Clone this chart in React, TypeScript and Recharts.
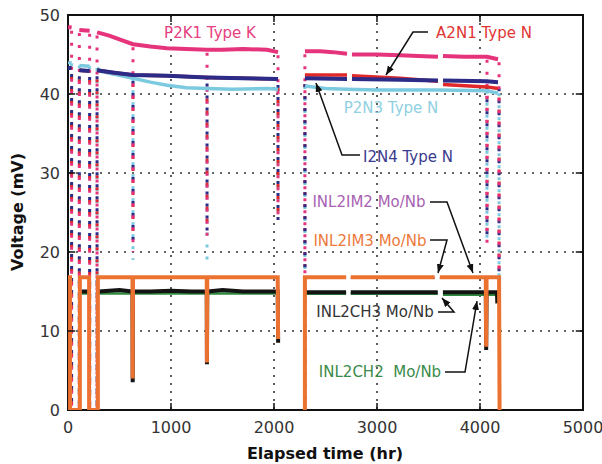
import React from 'react';
import {
  LineChart, Line, XAxis, YAxis, CartesianGrid, ReferenceArea, ReferenceLine,
} from 'recharts';

// ---------- axis ticks ----------
const X_TICKS = [0, 1000, 2000, 3000, 4000, 5000];
const Y_TICKS = [0, 10, 20, 30, 40, 50];

// ---------- upper group (solid levels, null = gap) ----------
type P = [number, number] | null;

const P2K1_LEVEL: P[] = [
  [0, 48.5], [35, 48.4], null,
  [110, 48.1], [210, 48.0], null,
  [282, 47.8], [311, 47.7], [400, 47.4], [500, 46.9], [631, 46.3], [800, 46.0], [961, 45.8],
  [1150, 45.7], [1350, 45.6], [1500, 45.6], [1700, 45.7], [1932, 45.6], [2039, 45.3], null,
  [2300, 45.4], [2450, 45.4], [2573, 45.3], [2709, 45.1], null,
  [2757, 45.0], [3000, 45.0], [3223, 44.9], [3400, 44.8], [3592, 44.7], null,
  [3641, 44.8], [3850, 44.7], [4068, 44.7], [4175, 44.4],
];

const P2N3_LEVEL: P[] = [
  [0, 44.0], [35, 43.9], null,
  [110, 43.6], [210, 43.5], null,
  [282, 43.3], [311, 42.9], [450, 42.5], [631, 42.0], [800, 41.5], [961, 41.1], [1150, 40.8],
  [1350, 40.7], [1600, 40.6], [1932, 40.7], [2039, 40.6], null,
  [2300, 41.0], [2500, 40.7], [2709, 40.6], [3000, 40.5], [3592, 40.5], [4068, 40.4], [4175, 40.1],
];

const A2N1_LEVEL: P[] = [
  [0, 43.3], [35, 43.3], null,
  [110, 43.0], [210, 42.9], null,
  [282, 43.0], [450, 42.7], [631, 42.4], [961, 42.3], [1350, 42.1], [1700, 42.0], [2039, 41.9], null,
  [2300, 42.4], [2709, 42.4], null,
  [2757, 42.3], [3223, 42.0], [3592, 41.6], null,
  [3641, 41.2], [4068, 40.9], [4175, 40.7],
];

const I2N4_LEVEL: P[] = [
  [0, 43.3], [35, 43.3], null,
  [110, 43.0], [210, 42.9], null,
  [282, 43.0], [450, 42.7], [631, 42.4], [961, 42.3], [1350, 42.1], [1700, 42.0], [2039, 41.9], null,
  [2300, 42.0], [2709, 41.9], null,
  [2757, 41.9], [3223, 41.8], [3592, 41.7], null,
  [3641, 41.7], [4068, 41.6], [4175, 41.5],
];

// dropout columns: [time, level, lowest reading]
const P2K1_DROPS: [number, number, number][] = [
  [35, 48.4, 0], [110, 48.1, 0], [210, 48.0, 0], [282, 47.8, 0], [631, 46.3, 20],
  [1350, 45.6, 21], [2039, 45.3, 24], [2300, 45.4, 0], [4068, 44.7, 21], [4185, 44.4, 17],
];
const P2N3_DROPS: [number, number, number][] = [
  [35, 43.9, 0], [110, 43.6, 0], [210, 43.5, 0], [282, 43.3, 0], [631, 42.0, 19],
  [1350, 40.7, 18], [2039, 40.6, 24], [2300, 41.0, 0], [4068, 40.4, 21], [4185, 40.1, 17],
];
const I2N4_DROPS: [number, number, number][] = [
  [35, 43.3, 0], [110, 43.0, 0], [210, 42.9, 0], [282, 43.0, 0], [631, 42.4, 21],
  [1350, 42.1, 22], [2039, 41.9, 24], [2300, 42.0, 0], [4068, 41.6, 22], [4185, 41.5, 17],
];
const A2N1_DROPS: [number, number, number][] = [
  [35, 43.3, 0], [110, 43.0, 0], [210, 42.9, 0], [282, 43.0, 0], [631, 42.4, 22],
  [1350, 42.1, 23], [2039, 41.9, 25], [2300, 42.4, 0], [4068, 40.9, 22], [4185, 40.7, 17],
];

// ---------- lower group ----------
const INL2IM3_LEVEL: P[] = [
  [0, 16.8], [20, 16.8], [20, 0], [115, 0], [115, 16.8], [205, 16.8], [205, 0], [290, 0], [290, 16.8],
  [626, 16.8], [628, 4.0], [631, 16.8], [1347, 16.8], [1349, 6.0], [1352, 16.8],
  [2036, 16.8], [2040, 9.0], null,
  [2300, 0], [2300, 16.8], [2700, 16.8], null,
  [2745, 16.8], [3560, 16.8], null,
  [3610, 16.8], [4056, 16.8], [4060, 8.0], [4064, 16.8], [4185, 16.8], [4190, 0],
];

const INL2IM2_LEVEL: P[] = [
  [0, 16.7], [20, 16.7], [20, 0], [115, 0], [115, 16.7], [205, 16.7], [205, 0], [290, 0], [290, 16.7],
  [2036, 16.7], null,
  [2300, 0], [2300, 16.7], [2700, 16.7], null,
  [2745, 16.7], [3560, 16.7], null,
  [3610, 16.7], [4185, 16.7], [4190, 0],
];

const INL2CH3_LEVEL: P[] = [
  [130, 15.0], [205, 15.0], null,
  [300, 15.0], [400, 15.1], [500, 15.2], [626, 15.0], [628, 3.5], [631, 15.0], [800, 15.0],
  [1000, 15.1], [1200, 15.0], [1347, 15.0], [1349, 5.8], [1352, 15.0], [1500, 15.2],
  [1700, 15.0], [1900, 15.0], [2036, 15.0], [2040, 8.5], null,
  [2300, 14.9], [2700, 14.9], null,
  [2745, 14.9], [3590, 14.9], null,
  [3640, 14.9], [4056, 14.9], [4060, 7.6], [4064, 14.9], [4165, 14.9], [4168, 13.5],
];

const INL2CH2_LEVEL: P[] = [
  [130, 14.75], [205, 14.75], null,
  [300, 14.75], [2036, 14.75], null,
  [2300, 14.7], [2700, 14.7], null,
  [2745, 14.7], [3590, 14.7], null,
  [3640, 14.6], [4165, 14.6],
];

// ---------- helpers ----------
const toPts = (arr: P[]) => {
  let last = 0;
  return arr.map((p) => {
    if (p) { last = p[0]; return { t: p[0], v: p[1] }; }
    return { t: last, v: null as number | null };
  });
};
const dropPts = (arr: [number, number, number][]) =>
  arr.flatMap(([t, top, bot]) => [{ t, v: top }, { t, v: bot }, { t, v: null as number | null }]);

const FONT = '"DejaVu Sans", Verdana, sans-serif';

const C = {
  pink: '#e6347c',
  lblue: '#7ccadf',
  navy: '#2c2c88',
  red: '#e0282a',
  orange: '#ec7232',
  black: '#141414',
  green: '#2f8a40',
  purple: '#a455b0',
};

export default function App() {
  const lineProps = { type: 'linear' as const, dataKey: 'v', dot: false, activeDot: false, isAnimationActive: false, connectNulls: false };
  const dropStyle = { strokeWidth: 3, strokeDasharray: '3 9' };
  const tickStyle = { fontSize: 16, fill: '#333', fontFamily: FONT };
  const tickSeg = { stroke: '#111', strokeWidth: 1.5, ifOverflow: 'visible' as const };

  return (
    <div style={{ position: 'absolute', left: 0, top: 0, width: 602, height: 464, background: '#fff' }}>
      <LineChart width={602} height={464} margin={{ top: 15, right: 19, bottom: 24, left: 8 }}>
        <CartesianGrid stroke="#333" strokeDasharray="2 6" strokeWidth={1.6} />
        <XAxis
          type="number" dataKey="t" domain={[0, 5000]} ticks={X_TICKS} allowDataOverflow
          height={30} tickSize={0} tickMargin={12} axisLine={false} tickLine={false} tick={tickStyle}
        />
        <YAxis
          type="number" domain={[0, 50]} ticks={Y_TICKS} allowDataOverflow
          width={60} tickSize={0} tickMargin={8} axisLine={false} tickLine={false} tick={tickStyle}
        />

        {/* dropout columns (dotted, interleaved colours) */}
        <Line {...lineProps} data={dropPts(P2N3_DROPS)} stroke={C.lblue} {...dropStyle} strokeDashoffset={0} />
        <Line {...lineProps} data={dropPts(A2N1_DROPS)} stroke={C.red} {...dropStyle} strokeDashoffset={3} />
        <Line {...lineProps} data={dropPts(I2N4_DROPS)} stroke={C.navy} {...dropStyle} strokeDashoffset={6} />
        <Line {...lineProps} data={dropPts(P2K1_DROPS)} stroke={C.pink} {...dropStyle} strokeDashoffset={9} />

        {/* upper levels */}
        <Line {...lineProps} data={toPts(P2N3_LEVEL)} stroke={C.lblue} strokeWidth={3.5} />
        <Line {...lineProps} data={toPts(A2N1_LEVEL)} stroke={C.red} strokeWidth={3.5} />
        <Line {...lineProps} data={toPts(I2N4_LEVEL)} stroke={C.navy} strokeWidth={4} />
        <Line {...lineProps} data={toPts(P2K1_LEVEL)} stroke={C.pink} strokeWidth={4} />

        {/* lower levels */}
        <Line {...lineProps} data={toPts(INL2CH2_LEVEL)} stroke={C.green} strokeWidth={2.5} />
        <Line {...lineProps} data={toPts(INL2CH3_LEVEL)} stroke={C.black} strokeWidth={4} />
        <Line {...lineProps} data={toPts(INL2IM2_LEVEL)} stroke={C.purple} strokeWidth={2} />
        <Line {...lineProps} data={toPts(INL2IM3_LEVEL)} stroke={C.orange} strokeWidth={4} />

        {/* frame */}
        <ReferenceArea x1={0} x2={5000} y1={0} y2={50} fill="none" fillOpacity={0} stroke="#111" strokeWidth={2} ifOverflow="visible" />
        {/* inward tick marks */}
        {X_TICKS.slice(1, -1).map((t) => (
          <ReferenceLine key={'xb' + t} segment={[{ x: t, y: 0 }, { x: t, y: 0.9 }]} {...tickSeg} />
        ))}
        {X_TICKS.slice(1, -1).map((t) => (
          <ReferenceLine key={'xt' + t} segment={[{ x: t, y: 50 }, { x: t, y: 49.1 }]} {...tickSeg} />
        ))}
        {Y_TICKS.slice(1, -1).map((v) => (
          <ReferenceLine key={'yl' + v} segment={[{ x: 0, y: v }, { x: 70, y: v }]} {...tickSeg} />
        ))}
        {Y_TICKS.slice(1, -1).map((v) => (
          <ReferenceLine key={'yr' + v} segment={[{ x: 5000, y: v }, { x: 4930, y: v }]} {...tickSeg} />
        ))}
      </LineChart>

      {/* annotations and axis titles */}
      <svg width={602} height={464} style={{ position: 'absolute', left: 0, top: 0, pointerEvents: 'none' }}>
        <defs>
          <marker id="ah" markerWidth={10} markerHeight={8} refX={9} refY={3.5} orient="auto" markerUnits="userSpaceOnUse">
            <path d="M0,0 L9,3.5 L0,7 z" fill="#111" />
          </marker>
        </defs>
        <g fontFamily={FONT} fontSize={15} textAnchor="middle" dominantBaseline="central">
          <text x={210} y={33} fill="#e6407f">P2K1 Type K</text>
          <text x={484} y={33} fill="#e03535">A2N1 Type N</text>
          <text x={391} y={108} fill="#8fd0e2">P2N3 Type N</text>
          <text x={408} y={157} fill="#3a3a8e">I2N4 Type N</text>
          <text x={369} y={202} fill="#a862b2">INL2IM2 Mo/Nb</text>
          <text x={370} y={241} fill="#ec7a3c">INL2IM3 Mo/Nb</text>
          <text x={375} y={312} fill="#333">INL2CH3 Mo/Nb</text>
          <text x={380} y={372} fill="#3a8a4a" style={{ whiteSpace: 'pre' }}>{'INL2CH2  Mo/Nb'}</text>
        </g>
        <g fill="none" stroke="#111" strokeWidth={1.5}>
          <polyline points="428,32 413,32 386,75" markerEnd="url(#ah)" />
          <polyline points="360,155 342,155 316,83" markerEnd="url(#ah)" />
          <polyline points="430,202 447,202 473,273" markerEnd="url(#ah)" />
          <polyline points="430,240 447,240 438,273" markerEnd="url(#ah)" />
          <polyline points="438,312 454,312 442,298" markerEnd="url(#ah)" />
          <polyline points="445,372 465,372 477,301" markerEnd="url(#ah)" />
        </g>
        <text x={325} y={453} textAnchor="middle" dominantBaseline="central" fontFamily={FONT} fontWeight="bold" fontSize={16} fill="#111">
          Elapsed time (hr)
        </text>
        <text x={17} y={212} textAnchor="middle" dominantBaseline="central" fontFamily={FONT} fontWeight="bold" fontSize={16} fill="#111" transform="rotate(-90 17 212)">
          Voltage (mV)
        </text>
      </svg>
    </div>
  );
}
